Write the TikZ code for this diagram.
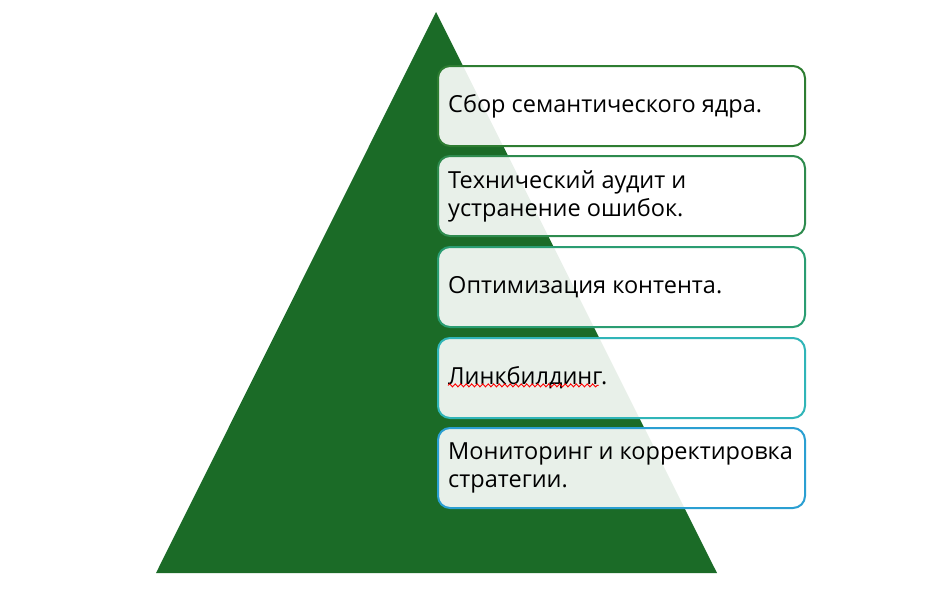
\documentclass[tikz,border=0pt]{standalone}
\usepackage{fontspec}
\setmainfont{Open Sans}
\usetikzlibrary{decorations.pathmorphing}
\definecolor{pyr}{HTML}{1B6B27}
\definecolor{bA}{HTML}{2E7D32}
\definecolor{bB}{HTML}{2E8B4E}
\definecolor{bC}{HTML}{2A9D72}
\definecolor{bD}{HTML}{30B5B8}
\definecolor{bE}{HTML}{2A9FD2}
\tikzset{
  stepbox/.style={draw, line width=2pt, rounded corners=12pt, fill=white, fill opacity=0.9, text opacity=1,
    minimum width=367pt, minimum height=80pt, inner sep=0pt, anchor=north west},
  steptext/.style={anchor=west, align=left, font=\fontsize{23.5}{28}\selectfont, text=black, inner sep=0pt}
}
\begin{document}
\begin{tikzpicture}[x=1pt,y=-1pt]
\useasboundingbox (0,0) rectangle (940,589);
\coordinate (apex) at (436,12);
\coordinate (bl) at (156,573);
\coordinate (br) at (717,573);
\fill[pyr] (apex) -- (br) -- (bl) -- cycle;
\node[stepbox, draw=bA] (b1) at (437,65) {};
\node[stepbox, draw=bB] (b2) at (437,155) {};
\node[stepbox, draw=bC] (b3) at (437,246) {};
\node[stepbox, draw=bD] (b4) at (437,337) {};
\node[stepbox, draw=bE] (b5) at (437,427) {};
\node[steptext] (t1) at ([xshift=11pt]b1.west) {Сбор семантического ядра.};
\node[steptext] (t2) at ([xshift=11pt]b2.west) {Технический аудит и\\устранение ошибок.};
\node[steptext] (t3) at ([xshift=11pt]b3.west) {Оптимизация контента.};
\node[steptext] (t4) at ([xshift=11pt]b4.west) {Линкбилдинг.};
\node[steptext] (t5) at ([xshift=11pt]b5.west) {Мониторинг и корректировка\\стратегии.};
\coordinate (w1) at ([yshift=4pt]t4.south west);
\coordinate (w2) at ([xshift=-9pt,yshift=4pt]t4.south east);
\draw[red, line width=0.9pt, decorate, decoration={snake, amplitude=1.5pt, segment length=5.5pt}] (w1) -- (w2);
\end{tikzpicture}
\end{document}
